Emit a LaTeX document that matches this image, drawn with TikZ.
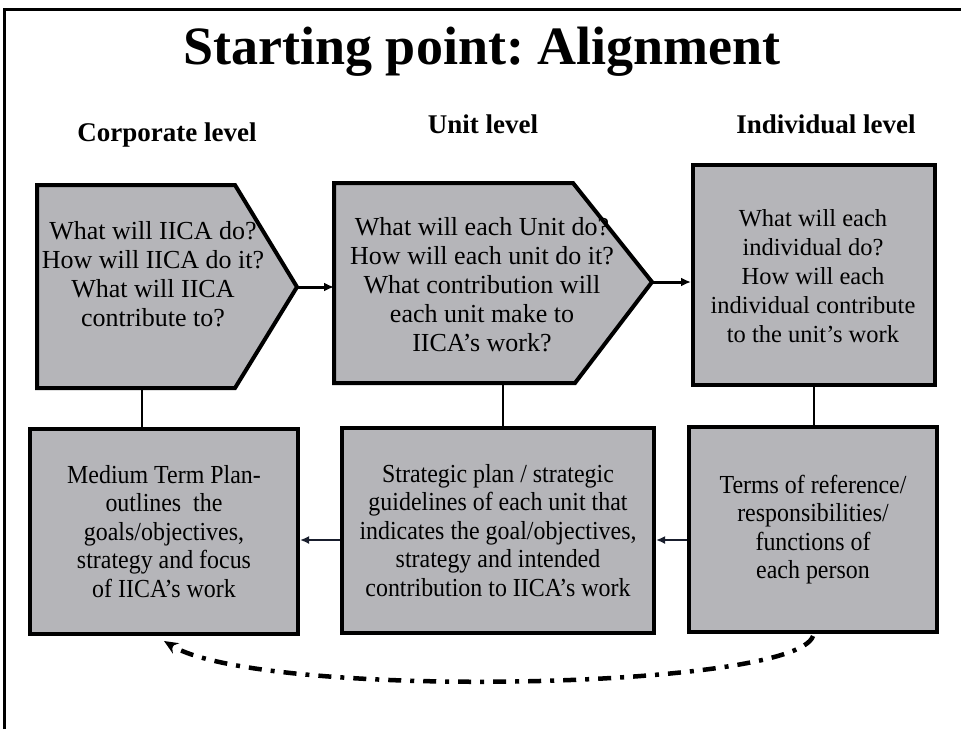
\documentclass[tikz,border=0pt]{standalone}
\usepackage{fontspec}
\setmainfont{Liberation Serif}
\newfontfamily\condfont[FakeStretch=0.92]{Liberation Serif}
\usetikzlibrary{arrows.meta}
\frenchspacing
\definecolor{boxgray}{RGB}{181,181,185}
\definecolor{arrowdark}{RGB}{25,30,45}
\tikzset{
  boxline/.style={draw=black, line width=4pt, fill=boxgray, line join=miter},
  rectbox/.style={boxline, rectangle, inner sep=0pt, align=center},
  toptext/.style={align=center, inner sep=0pt, font=\fontsize{26pt}{29pt}\selectfont},
  bottext/.style={font=\condfont\fontsize{26pt}{28.5pt}\selectfont},
  leveltext/.style={anchor=base, inner sep=0pt, font=\fontsize{27pt}{30pt}\selectfont\bfseries},
  link/.style={draw=black, line width=2.5pt},
  toparrow/.style={draw=black, line width=3pt, -{Latex[length=10pt,width=9pt]}},
  botarrow/.style={draw=arrowdark, line width=2.8pt, -{Latex[length=9pt,width=8pt]}},
  feedback/.style={draw=black, line width=4.5pt, dash pattern=on 13pt off 9pt on 4pt off 9pt,
    -{Stealth[length=14pt,width=12pt]}}
}
\begin{document}
\begin{tikzpicture}[x=1pt,y=-1pt]
\useasboundingbox (0,0) rectangle (961,729);
% frame (top and left edges)
\draw[line width=3pt] (4,729) -- (4,9) -- (961,9);

% title and level headings
\node[anchor=base, inner sep=0pt, font=\fontsize{54pt}{60pt}\selectfont\bfseries] (title) at (482,64) {Starting point: Alignment};
\node[leveltext] (lcorp) at (167,141) {Corporate level};
\node[leveltext] (lunit) at (483,133) {Unit level};
\node[leveltext] (lind) at (826,133) {Individual level};

% top row
\draw[boxline] (37,185) -- (235,185) -- (297,287) coordinate (t1tip) -- (235,388) -- (37,388) -- cycle;
\coordinate (t1b) at (142,388);
\node[toptext] (t1txt) at (153,274) {What will IICA do?\\How will IICA do it?\\What will IICA\\contribute to?};

\draw[boxline] (334,183) coordinate (t2nw) -- (573,183) -- (652,282) coordinate (t2tip) -- (575,383) -- (334,383) -- cycle;
\coordinate (t2b) at (503,383);
\node[toptext] (t2txt) at (482,285) {What will each Unit do?\\How will each unit do it?\\What contribution will\\each unit make to\\IICA’s work?};

\node[rectbox, minimum width=242pt, minimum height=220pt] (t3) at (814,275) {};
\node[toptext, font=\fontsize{24.5pt}{29pt}\selectfont] (t3txt) at (813,276) {What will each\\individual do?\\How will each\\individual contribute\\to the unit’s work};

% bottom row
\node[rectbox, bottext, minimum width=268pt, minimum height=205pt] (m1) at (164,531.5) {Medium Term Plan-\\outlines\ \ the\\goals/objectives,\\strategy and focus\\of IICA’s work};
\node[rectbox, bottext, minimum width=312pt, minimum height=205pt] (m2) at (498,530.5) {Strategic plan / strategic\\guidelines of each unit that\\indicates the goal/objectives,\\strategy and intended\\contribution to IICA’s work};
\node[rectbox, bottext, minimum width=248pt, minimum height=205pt] (m3) at (813,529.5) {Terms of reference/\\responsibilities/\\functions of\\each person};

% vertical links
\draw[link] (t1b) -- (t1b |- m1.north);
\draw[link] (t2b) -- (t2b |- m2.north);
\draw[link] (t3.south) -- (t3.south |- m3.north);

% top arrows
\draw[toparrow] (t1tip) -- (t1tip -| t2nw);
\draw[toparrow] (t2tip) -- (t2tip -| t3.west);

% bottom arrows
\coordinate (ya) at (0,540);
\draw[botarrow] (m2.west |- ya) -- (m1.east |- ya);
\draw[botarrow] (m3.west |- ya) -- (m2.east |- ya);

% feedback dash-dot curve
\draw[feedback] ([yshift=-2pt]m3.south) .. controls (795,690) and (260,700) .. ([yshift=-5pt]m1.south);
\end{tikzpicture}
\end{document}
